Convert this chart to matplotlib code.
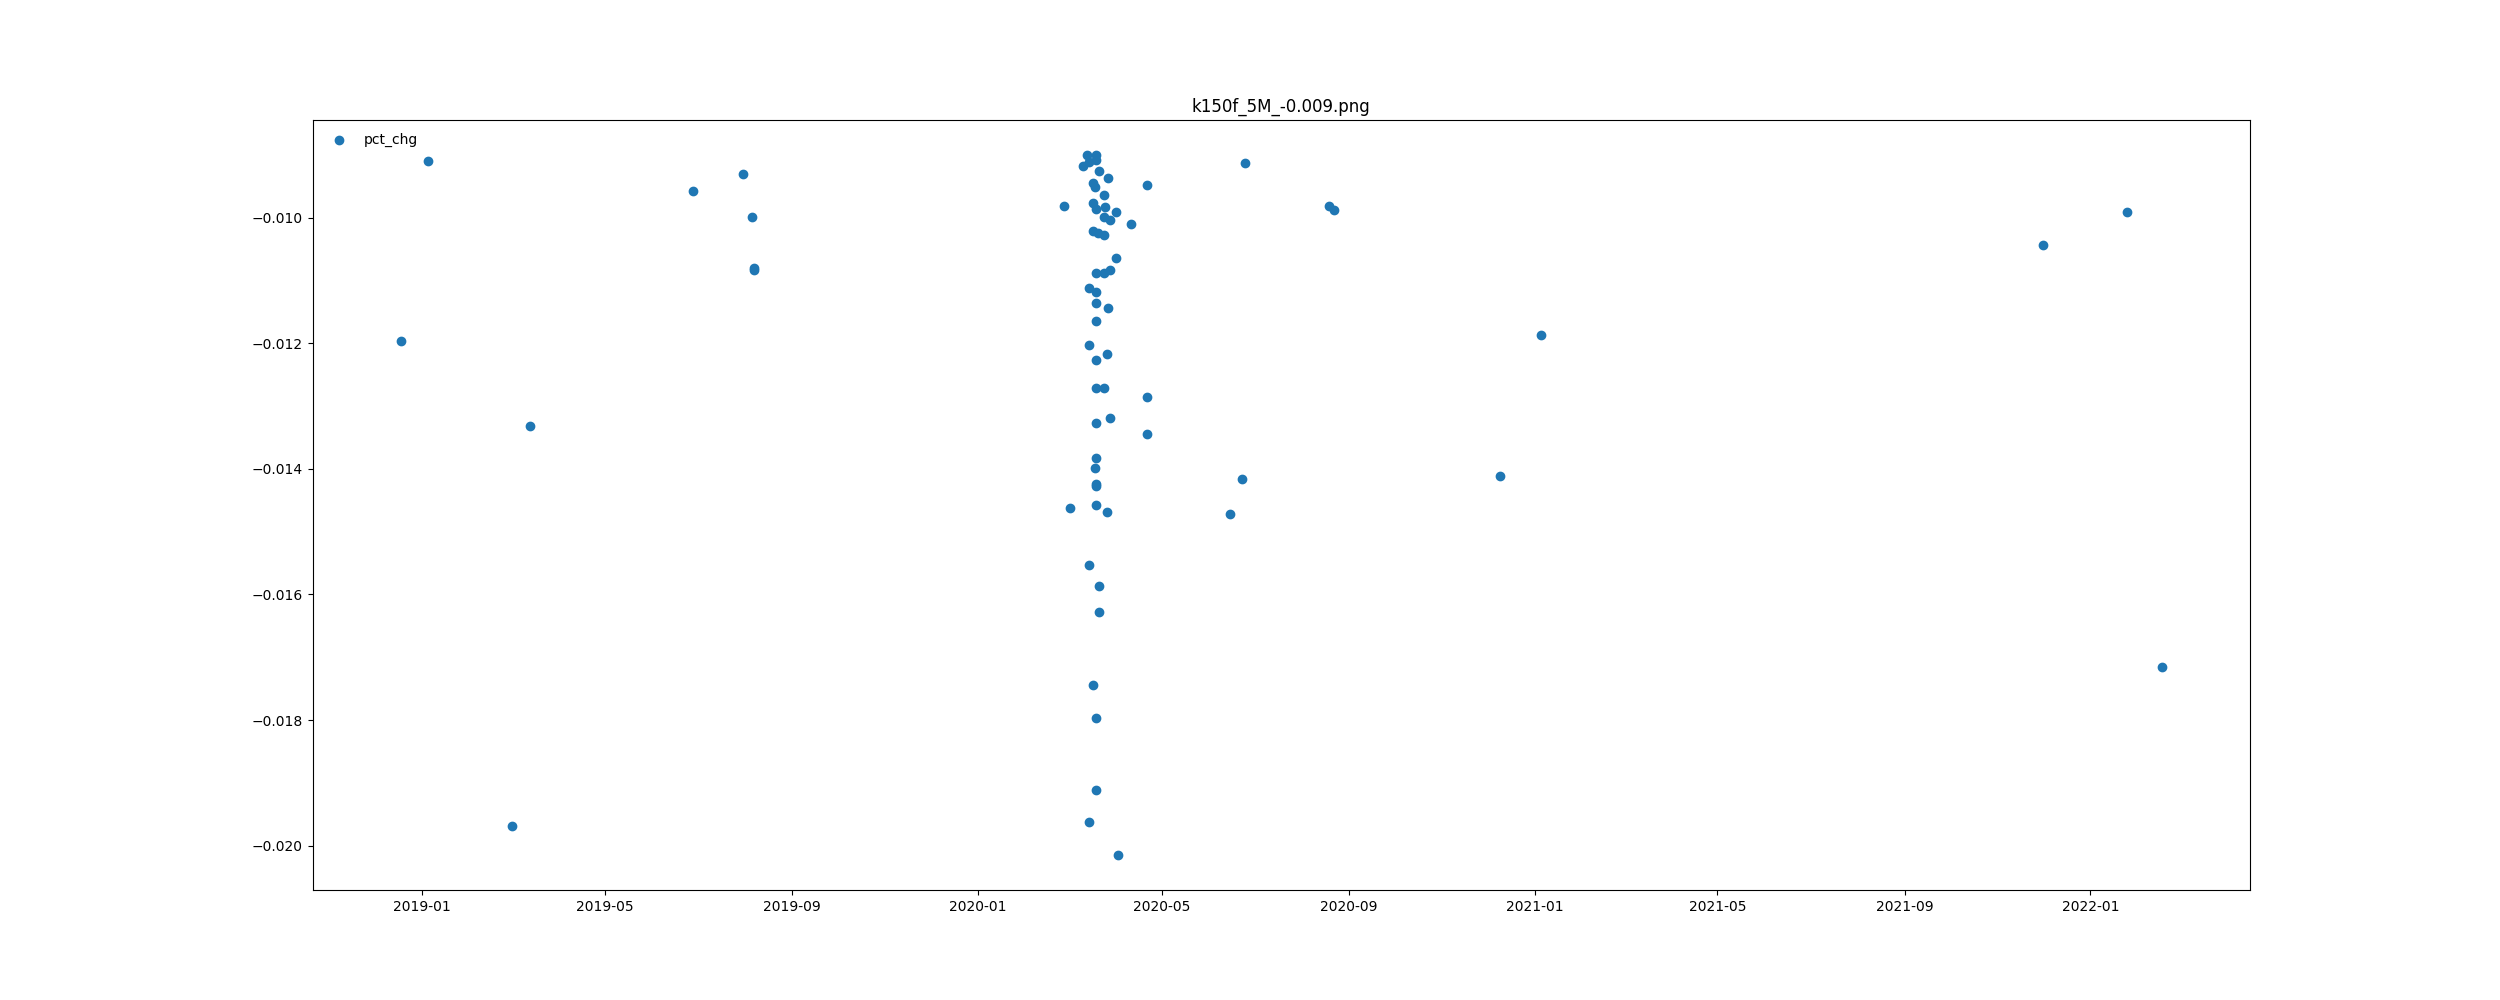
# scatter of pct_chg events, k150f 5M threshold -0.009
import pandas as pd
import matplotlib
matplotlib.use('Agg')

import matplotlib.pyplot as plt


# values
dates = [
    "2018-12-18", "2019-01-05", "2019-03-01", "2019-03-13",
    "2019-06-28", "2019-07-31", "2019-08-06", "2019-08-07", "2019-08-07",
    "2020-02-27", "2020-03-02",
    "2020-03-10", "2020-03-13",
    "2020-03-14", "2020-03-14", "2020-03-14", "2020-03-14", "2020-03-14",
    "2020-03-17", "2020-03-17", "2020-03-17", "2020-03-17",
    "2020-03-18", "2020-03-18",
    "2020-03-19", "2020-03-19", "2020-03-19", "2020-03-19", "2020-03-19", "2020-03-19",
    "2020-03-19", "2020-03-19", "2020-03-19", "2020-03-19", "2020-03-19", "2020-03-19",
    "2020-03-19", "2020-03-19", "2020-03-19", "2020-03-19",
    "2020-03-20", "2020-03-21", "2020-03-21", "2020-03-21",
    "2020-03-24", "2020-03-24", "2020-03-24", "2020-03-24", "2020-03-24", "2020-03-25",
    "2020-03-26", "2020-03-26", "2020-03-27", "2020-03-27",
    "2020-03-28", "2020-03-28", "2020-03-28",
    "2020-04-01", "2020-04-01", "2020-04-02", "2020-04-11",
    "2020-04-21", "2020-04-21", "2020-04-21",
    "2020-06-15", "2020-06-23", "2020-06-25",
    "2020-08-19", "2020-08-22",
    "2020-12-09", "2021-01-05",
    "2021-12-01", "2022-01-25", "2022-02-17",
]
pct_chg = [
    -0.01197, -0.00910, -0.01969, -0.01331,
    -0.00957, -0.00930, -0.00999, -0.01080, -0.01083,
    -0.00982, -0.01463,
    -0.00918, -0.00900,
    -0.00911, -0.01112, -0.01203, -0.01553, -0.01962,
    -0.00945, -0.00977, -0.01021, -0.01744,
    -0.00951, -0.01399,
    -0.00900, -0.00908, -0.00986, -0.01088, -0.01119, -0.01135,
    -0.01165, -0.01226, -0.01271, -0.01327, -0.01383, -0.01424,
    -0.01428, -0.01458, -0.01797, -0.01911,
    -0.01024, -0.00926, -0.01587, -0.01628,
    -0.00964, -0.00999, -0.01271, -0.01088, -0.01028, -0.00983,
    -0.01217, -0.01469, -0.00937, -0.01144,
    -0.01004, -0.01083, -0.01319,
    -0.00991, -0.01064, -0.02015, -0.01010,
    -0.00948, -0.01286, -0.01345,
    -0.01472, -0.01416, -0.00913,
    -0.00981, -0.00987,
    -0.01411, -0.01187,
    -0.01044, -0.00991, -0.01716,
]

df = pd.DataFrame({"pct_chg": pct_chg}, index=pd.to_datetime(dates))

fig = plt.figure(figsize=(25, 10), dpi=100)
plt.scatter(df.index, df["pct_chg"], label="pct_chg")
plt.legend(loc="upper left", frameon=False)
plt.title("k150f_5M_-0.009.png")

fig.savefig("out.png")
